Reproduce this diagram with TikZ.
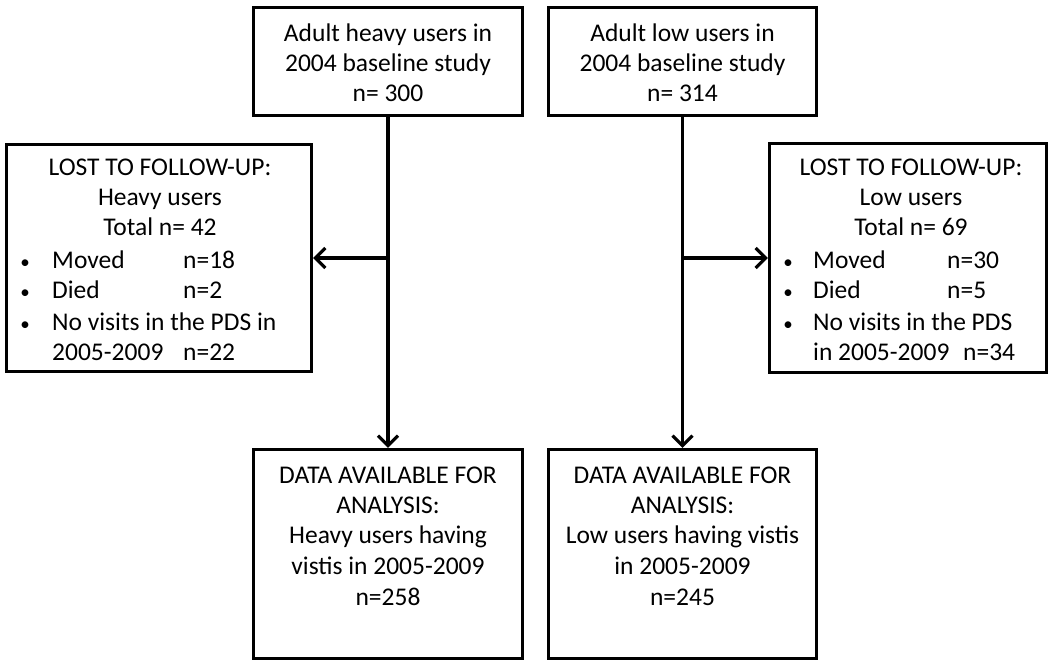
\documentclass[tikz,border=0pt]{standalone}
\usepackage{fontspec}
\setmainfont{Carlito}
\usetikzlibrary{arrows.meta}
\begin{document}
\begin{tikzpicture}[x=1pt,y=-1pt,
  box/.style={draw, line width=3.2pt, inner sep=0pt, fill=white},
  txt/.style={anchor=base, inner sep=0pt, font=\fontsize{25.5}{30}\selectfont},
  ltxt/.style={anchor=base west, inner sep=0pt, font=\fontsize{25.5}{30}\selectfont},
  bul/.style={anchor=base, inner sep=0pt, font=\fontsize{19}{30}\selectfont},
  flow/.style={line width=3.2pt, -{Straight Barb[length=10pt,width=20pt]}}]
\useasboundingbox (0,0) rectangle (1051,664);
% boxes
\node[box, minimum width=269pt, minimum height=108pt] (tl) at (388,61.5) {};
\node[box, minimum width=268pt, minimum height=108pt] (tr) at (682.5,61.5) {};
\node[box, minimum width=305pt, minimum height=227pt] (lostL) at (159,258) {};
\node[box, minimum width=277pt, minimum height=229pt] (lostR) at (908,258) {};
\node[box, minimum width=269pt, minimum height=209pt] (bl) at (388,554) {};
\node[box, minimum width=268pt, minimum height=209pt] (br) at (682.5,554) {};
% top texts
\node[txt] (tl1) at (388,41) {Adult heavy users in};
\node[txt] (tl2) at (388,71) {2004 baseline study};
\node[txt] (tl3) at (388,101) {n= 300};
\node[txt] (tr1) at (682.5,41) {Adult low users in};
\node[txt] (tr2) at (682.5,71) {2004 baseline study};
\node[txt] (tr3) at (682.5,101) {n= 314};
% lost left
\node[txt] (ll1) at (160,175) {LOST TO FOLLOW-UP:};
\node[txt] (ll2) at (160,205) {Heavy users};
\node[txt] (ll3) at (160,235) {Total n= 42};
\node[bul] (llb1) at (25,268) {•};
\node[ltxt] (lla) at (52,268) {Moved};
\node[ltxt] (llan) at (183,268) {n=18};
\node[bul] (llb2) at (25,298) {•};
\node[ltxt] (llb) at (52,298) {Died};
\node[ltxt] (llbn) at (183,298) {n=2};
\node[bul] (llb3) at (25,330) {•};
\node[ltxt] (llc) at (52,330) {No visits in the PDS in};
\node[ltxt] (llc2) at (52,360) {2005-2009};
\node[ltxt] (llcn) at (183,360) {n=22};
% lost right
\node[txt] (lr1) at (911,175) {LOST TO FOLLOW-UP:};
\node[txt] (lr2) at (911,205) {Low users};
\node[txt] (lr3) at (911,235) {Total n= 69};
\node[bul] (lrb1) at (788,268) {•};
\node[ltxt] (lra) at (813,268) {Moved};
\node[ltxt] (lran) at (947,268) {n=30};
\node[bul] (lrb2) at (788,298) {•};
\node[ltxt] (lrb) at (813,298) {Died};
\node[ltxt] (lrbn) at (947,298) {n=5};
\node[bul] (lrb3) at (788,330) {•};
\node[ltxt] (lrc) at (813,330) {No visits in the PDS};
\node[ltxt] (lrc2) at (813,360) {in 2005-2009};
\node[ltxt] (lrcn) at (963,360) {n=34};
% bottom texts
\node[txt] (bl1) at (388,483) {DATA AVAILABLE FOR};
\node[txt] (bl2) at (388,513) {ANALYSIS:};
\node[txt] (bl3) at (388,543) {Heavy users having};
\node[txt] (bl4) at (388,574) {vistis in 2005-2009};
\node[txt] (bl5) at (388,605) {n=258};
\node[txt] (br1) at (682.5,483) {DATA AVAILABLE FOR};
\node[txt] (br2) at (682.5,513) {ANALYSIS:};
\node[txt] (br3) at (682.5,543) {Low users having vistis};
\node[txt] (br4) at (682.5,574) {in 2005-2009};
\node[txt] (br5) at (682.5,605) {n=245};
% connectors
\coordinate (jl) at (tl.south |- lostL.east);
\coordinate (jr) at (tr.south |- lostR.west);
\draw[flow] (tl.south) -- (bl.north);
\draw[flow] (tr.south) -- (br.north);
\draw[flow] (jl) -- (lostL.east);
\draw[flow] (jr) -- (lostR.west);
\end{tikzpicture}
\end{document}
